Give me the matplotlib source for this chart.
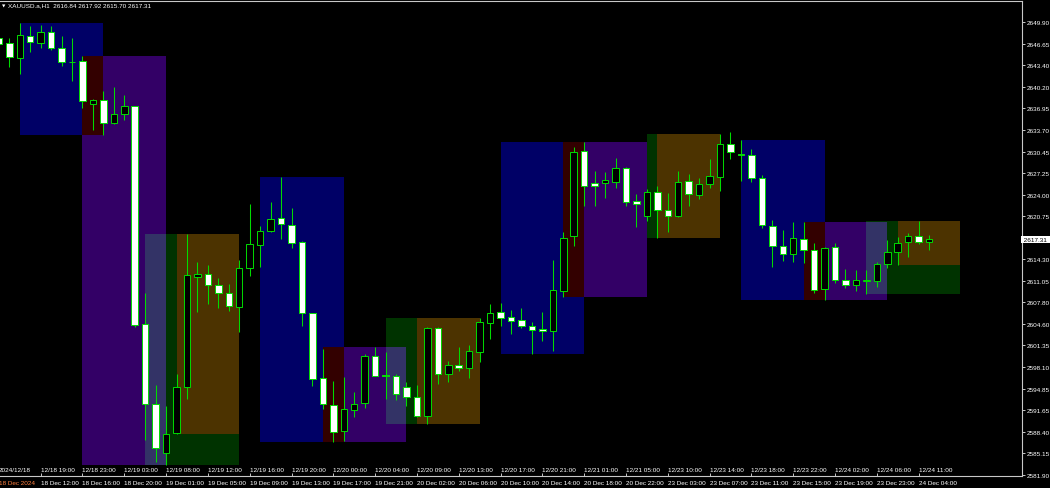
import matplotlib
matplotlib.use("Agg")
import matplotlib.pyplot as plt
import matplotlib.transforms as mtransforms
from matplotlib.patches import Rectangle

plt.rcParams['font.family'] = ['Liberation Sans', 'DejaVu Sans']

symbol = "XAUUSD.a,H1"

# H1 bars, index -1 is the bar cut by the left edge
bar_index = list(range(-1, 89))
opens = [2647.45, 2646.75, 2644.54, 2647.84, 2646.75, 2648.35, 2646.00, 2643.94, 2644.00, 2637.55,
         2638.19, 2634.69, 2636.09, 2637.25, 2604.52, 2592.51, 2585.20, 2588.16, 2595.15, 2611.58,
         2612.07, 2610.42, 2609.22, 2607.16, 2612.93, 2616.47, 2618.53, 2620.43, 2619.47, 2616.92,
         2606.17, 2596.42, 2592.41, 2588.46, 2591.70, 2592.66, 2599.72, 2596.84, 2596.81, 2595.06,
         2593.56, 2590.71, 2603.92, 2597.06, 2598.46, 2598.01, 2600.32, 2604.72, 2606.32, 2605.57,
         2605.17, 2604.31, 2603.86, 2603.52, 2609.56, 2617.73, 2630.54, 2625.69, 2625.69, 2625.84,
         2627.94, 2623.03, 2620.82, 2624.34, 2621.72, 2620.82, 2625.99, 2623.98, 2625.63, 2626.68,
         2631.66, 2630.04, 2629.98, 2626.44, 2619.28, 2616.32, 2615.03, 2617.33, 2615.72, 2609.78,
         2616.08, 2611.22, 2610.38, 2611.07, 2610.98, 2613.62, 2615.42, 2616.83, 2617.73, 2616.84]
highs = [2647.57, 2647.45, 2649.70, 2649.25, 2649.45, 2649.25, 2647.75, 2647.50, 2644.75, 2638.34,
         2639.54, 2640.10, 2638.94, 2637.29, 2609.22, 2595.41, 2592.30, 2597.06, 2618.08, 2613.83,
         2613.42, 2611.52, 2610.57, 2614.17, 2622.58, 2619.32, 2622.92, 2626.59, 2622.02, 2617.00,
         2606.22, 2600.81, 2595.97, 2596.57, 2594.31, 2600.06, 2601.07, 2600.41, 2597.06, 2595.82,
         2595.41, 2604.07, 2604.07, 2599.06, 2601.07, 2601.41, 2605.42, 2607.57, 2607.72, 2606.74,
         2606.97, 2604.82, 2606.32, 2614.17, 2618.42, 2631.09, 2631.93, 2627.58, 2627.43, 2629.44,
         2628.09, 2624.08, 2624.83, 2625.24, 2624.19, 2627.58, 2627.08, 2626.44, 2629.33, 2633.09,
         2633.34, 2632.19, 2630.84, 2626.93, 2620.22, 2618.72, 2619.92, 2619.92, 2616.68, 2616.17,
         2616.68, 2612.82, 2612.67, 2612.72, 2613.83, 2617.18, 2617.58, 2618.18, 2620.03, 2617.92]
lows = [2646.45, 2643.19, 2642.09, 2645.44, 2646.04, 2645.74, 2643.34, 2641.09, 2636.95, 2633.73,
        2632.98, 2634.59, 2635.23, 2604.07, 2587.20, 2583.81, 2583.40, 2587.98, 2593.31, 2606.41,
        2607.57, 2606.92, 2606.56, 2603.32, 2611.77, 2613.08, 2618.42, 2617.33, 2616.02, 2604.31,
        2595.30, 2591.81, 2586.90, 2587.05, 2590.56, 2591.91, 2596.69, 2593.31, 2593.20, 2592.30,
        2590.56, 2589.56, 2595.56, 2595.82, 2597.47, 2596.46, 2598.91, 2602.32, 2604.31, 2603.07,
        2603.97, 2600.06, 2602.06, 2600.56, 2608.57, 2616.32, 2622.32, 2622.23, 2623.53, 2624.94,
        2622.23, 2619.17, 2619.98, 2617.43, 2618.42, 2620.58, 2622.32, 2623.33, 2624.94, 2624.58,
        2629.33, 2626.08, 2625.93, 2618.98, 2613.08, 2614.02, 2613.92, 2613.72, 2609.22, 2608.17,
        2610.68, 2609.93, 2609.56, 2609.11, 2610.17, 2612.93, 2613.42, 2614.58, 2616.58, 2615.70]
closes = [2646.64, 2644.69, 2647.99, 2646.85, 2648.35, 2646.04, 2643.94, 2643.90, 2638.00, 2638.19,
          2634.69, 2636.04, 2637.25, 2604.42, 2592.56, 2586.00, 2588.01, 2595.06, 2611.92, 2612.07,
          2610.42, 2609.26, 2607.31, 2612.93, 2616.53, 2618.57, 2620.33, 2619.53, 2616.77, 2606.17,
          2596.31, 2592.51, 2588.40, 2591.81, 2592.56, 2599.81, 2596.81, 2596.76, 2594.06, 2593.56,
          2590.80, 2603.92, 2597.06, 2598.46, 2598.01, 2600.47, 2604.82, 2606.22, 2605.51, 2604.97,
          2604.22, 2603.62, 2603.52, 2609.62, 2617.43, 2630.34, 2625.24, 2625.24, 2626.14, 2627.94,
          2622.84, 2622.53, 2624.34, 2621.68, 2620.78, 2625.93, 2624.04, 2625.54, 2626.74, 2631.63,
          2630.34, 2629.94, 2626.44, 2619.43, 2616.23, 2615.03, 2617.43, 2615.67, 2609.72, 2615.93,
          2611.22, 2610.42, 2611.22, 2611.12, 2613.53, 2615.42, 2616.68, 2617.73, 2616.83, 2617.31]

# session boxes: first bar, last bar, kind (box height = high/low of its bars)
sess_start = [1, 7, 13, 16, 24, 30, 36, 39, 47, 53, 61, 62, 70, 76, 82, 85]
sess_end = [9, 15, 22, 22, 32, 38, 45, 45, 55, 61, 68, 68, 78, 84, 91, 91]
sess_kind = ['asia', 'london', 'day', 'ny'] * 4
sess_rgb = {'asia': (0, 0, 102), 'london': (51, 0, 102), 'day': (0, 51, 0), 'ny': (76, 0, 0)}

# time axis, one label every 4 bars starting at bar -1
server_labels = ["2024/12/18", "12/18 19:00", "12/18 23:00", "12/19 03:00", "12/19 08:00",
                 "12/19 12:00", "12/19 16:00", "12/19 20:00", "12/20 00:00", "12/20 04:00",
                 "12/20 09:00", "12/20 13:00", "12/20 17:00", "12/20 21:00", "12/21 01:00",
                 "12/21 05:00", "12/23 10:00", "12/23 14:00", "12/23 18:00", "12/23 22:00",
                 "12/24 02:00", "12/24 06:00", "12/24 11:00"]
local_labels = ["18 Dec 2024", "18 Dec 12:00", "18 Dec 16:00", "18 Dec 20:00", "19 Dec 01:00",
                "19 Dec 05:00", "19 Dec 09:00", "19 Dec 13:00", "19 Dec 17:00", "19 Dec 21:00",
                "20 Dec 02:00", "20 Dec 06:00", "20 Dec 10:00", "20 Dec 14:00", "20 Dec 18:00",
                "20 Dec 22:00", "23 Dec 03:00", "23 Dec 07:00", "23 Dec 11:00", "23 Dec 15:00",
                "23 Dec 19:00", "23 Dec 23:00", "24 Dec 04:00"]
label_bars = [-1 + 4 * i for i in range(len(server_labels))]

price_ticks = [2649.90, 2646.65, 2643.40, 2640.20, 2636.95, 2633.70, 2630.45, 2627.25, 2624.00,
               2620.75, 2614.30, 2611.05, 2607.80, 2604.60, 2601.35, 2598.10, 2594.85, 2591.65,
               2588.40, 2585.15, 2581.90]

W, H = 1050, 489
fig = plt.figure(figsize=(W / 100, H / 100), dpi=100, facecolor='black')
ax = fig.add_axes([0, (H - 477) / H, 1022 / W, (477 - 1.5) / H])
ax.set_facecolor('black')
ax.set_xlim(-0.89, 96.89)
ax.set_ylim(2581.75, 2653.13)

fs = 4.6
lime = '#00dc00'

# session boxes, overlapping parts mixed with xor like the terminal does
rects = []
for s, e, k in zip(sess_start, sess_end, sess_kind):
    idx = [i for i, b in enumerate(bar_index) if s <= b <= e]
    rects.append((s, e, min(lows[i] for i in idx), max(highs[i] for i in idx), sess_rgb[k]))
xs = sorted({r[0] for r in rects} | {r[1] for r in rects})
ys = sorted({r[2] for r in rects} | {r[3] for r in rects})
for x0, x1 in zip(xs[:-1], xs[1:]):
    for y0, y1 in zip(ys[:-1], ys[1:]):
        xm, ym = (x0 + x1) / 2, (y0 + y1) / 2
        col = [0, 0, 0]
        for r in rects:
            if r[0] <= xm <= r[1] and r[2] <= ym <= r[3]:
                col = [a ^ b for a, b in zip(col, r[4])]
        if any(col):
            ax.add_patch(Rectangle((x0, y0), x1 - x0, y1 - y0, facecolor=[c / 255 for c in col],
                                   edgecolor='none', lw=0, antialiased=False, zorder=1))

# candles
ax.vlines(bar_index, lows, highs, color=lime, lw=0.75, zorder=2)
body_lo = [min(o, c) for o, c in zip(opens, closes)]
body_h = [abs(c - o) for o, c in zip(opens, closes)]
fills = ['black' if c > o else 'white' for o, c in zip(opens, closes)]
ax.bar(bar_index, body_h, bottom=body_lo, width=0.62, color=fills, edgecolor=lime,
       linewidth=0.7, zorder=3)

# frame
for side in ['top', 'right', 'bottom']:
    ax.spines[side].set_color('#c8c8c8')
    ax.spines[side].set_linewidth(0.8)
ax.spines['left'].set_visible(False)

ax.yaxis.tick_right()
ax.set_yticks(price_ticks)
ax.set_yticklabels(['%.2f' % p for p in price_ticks])
ax.tick_params(axis='y', colors='#c8c8c8', labelcolor='white', labelsize=fs, length=2.5,
               width=0.7, pad=1)
ax.set_xticks([b for b in label_bars if b >= 0])
ax.tick_params(axis='x', direction='in', colors='#c8c8c8', length=2.5, width=0.7,
               labelbottom=False)

tr = mtransforms.blended_transform_factory(ax.transData, ax.transAxes)
for i, (b, s1, s2) in enumerate(zip(label_bars, server_labels, local_labels)):
    ax.text(b, 0.013, s1, transform=tr, ha='left', va='center', fontsize=fs,
            color='white', clip_on=False)
    ax.text(b, -0.0145, s2, transform=tr, ha='left', va='center', fontsize=fs,
            color='#ff8040' if i == 0 else 'white', clip_on=False)

# last price marker on the price scale
trp = mtransforms.blended_transform_factory(ax.transAxes, ax.transData)
ax.text(1.0, closes[-1], ' %.2f ' % closes[-1], transform=trp, ha='left', va='center',
        fontsize=fs, color='black', clip_on=False, zorder=10,
        bbox=dict(boxstyle='square,pad=0.15', fc='white', ec='none'))

# header
fig.text(2 / W, 1 - 6.5 / H, '▼', fontsize=3.2, color='white', va='center', ha='left',
         family='DejaVu Sans')
fig.text(8 / W, 1 - 6 / H, '%s  %.2f %.2f %.2f %.2f' % (symbol, opens[-1], highs[-1], lows[-1],
                                                         closes[-1]),
         fontsize=fs, color='white', va='center', ha='left')

fig.savefig('out.png', dpi=100, facecolor='black')
